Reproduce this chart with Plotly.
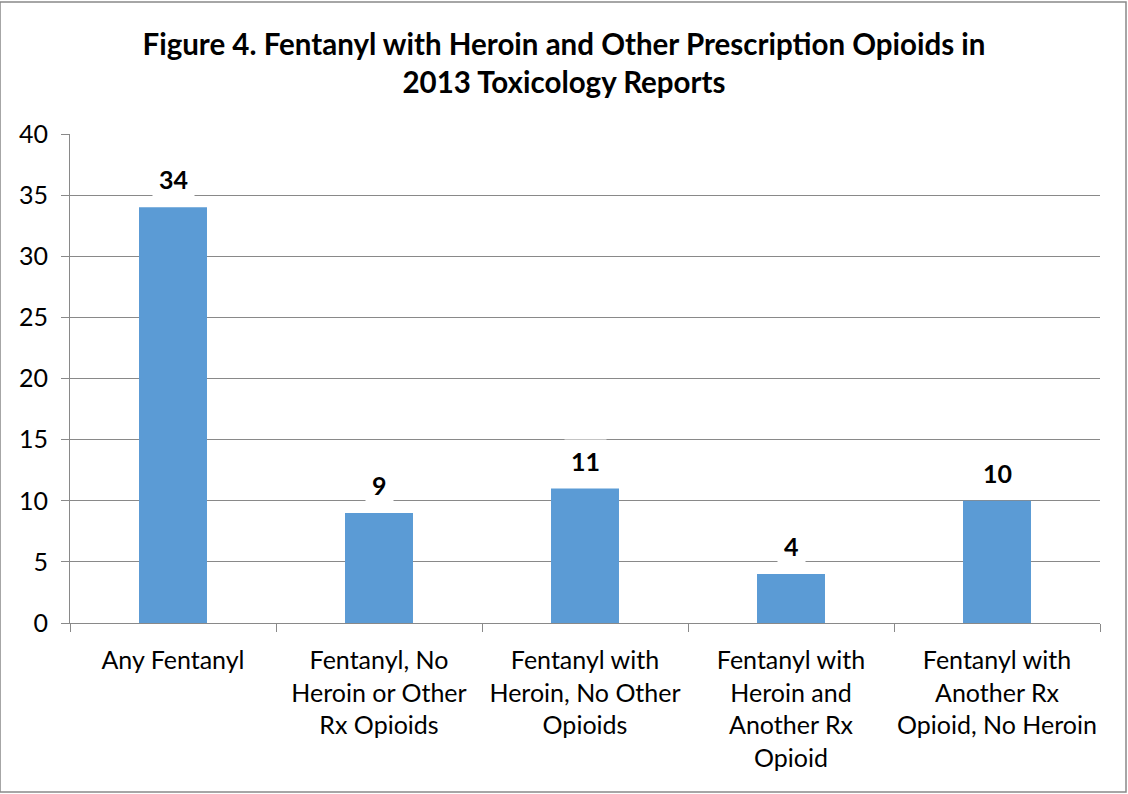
import plotly.graph_objects as go

categories = ["Any Fentanyl",
              "Fentanyl, No<br>Heroin or Other<br>Rx Opioids",
              "Fentanyl with<br>Heroin, No Other<br>Opioids",
              "Fentanyl with<br>Heroin and<br>Another Rx<br>Opioid",
              "Fentanyl with<br>Another Rx<br>Opioid, No Heroin"]
values = [34, 9, 11, 4, 10]
y_ticks = [0, 5, 10, 15, 20, 25, 30, 35, 40]

FONT = "Lato, Open Sans, sans-serif"

fig = go.Figure()
fig.add_trace(go.Bar(x=categories, y=values, marker_color="#5B9BD5",
                     marker_line_width=0, width=0.33, hoverinfo="skip"))

for c, v in zip(categories, values):
    fig.add_annotation(x=c, y=v, text="<b>%d</b>" % v, showarrow=False,
                       yshift=28, bgcolor="white", borderpad=6,
                       font=dict(family=FONT, size=25, color="black"))

fig.update_layout(
    width=1128, height=794,
    margin=dict(l=70, r=28, t=134, b=171),
    paper_bgcolor="white", plot_bgcolor="white",
    showlegend=False,
    title=dict(text="<b>Figure 4. Fentanyl with Heroin and Other Prescription Opioids in<br>2013 Toxicology Reports</b>",
               x=0.5, xanchor="center", y=0.931, yanchor="middle",
               font=dict(family=FONT, size=29.5, color="black")),
    xaxis=dict(showline=True, linecolor="#898989", linewidth=1,
               ticks="outside", tickcolor="#898989", ticklen=8,
               tickson="boundaries", showgrid=False, ticklabelstandoff=15,
               tickangle=0, automargin=False,
               tickfont=dict(family=FONT, size=25, color="black")),
    yaxis=dict(range=[0, 40], tickvals=y_ticks, showline=True,
               linecolor="#898989", linewidth=1, ticks="outside",
               tickcolor="#898989", ticklen=8, showgrid=True,
               gridcolor="#898989", gridwidth=1, zeroline=False,
               ticklabelstandoff=8, automargin=False,
               tickfont=dict(family=FONT, size=25, color="black")),
    shapes=[dict(type="rect", xref="paper", yref="paper",
                 x0=-70/1030, x1=1 + 26/1030, y0=-169/489, y1=1 + 132/489,
                 line=dict(color="#898989", width=1.5))],
)

fig.write_html("out.html")
